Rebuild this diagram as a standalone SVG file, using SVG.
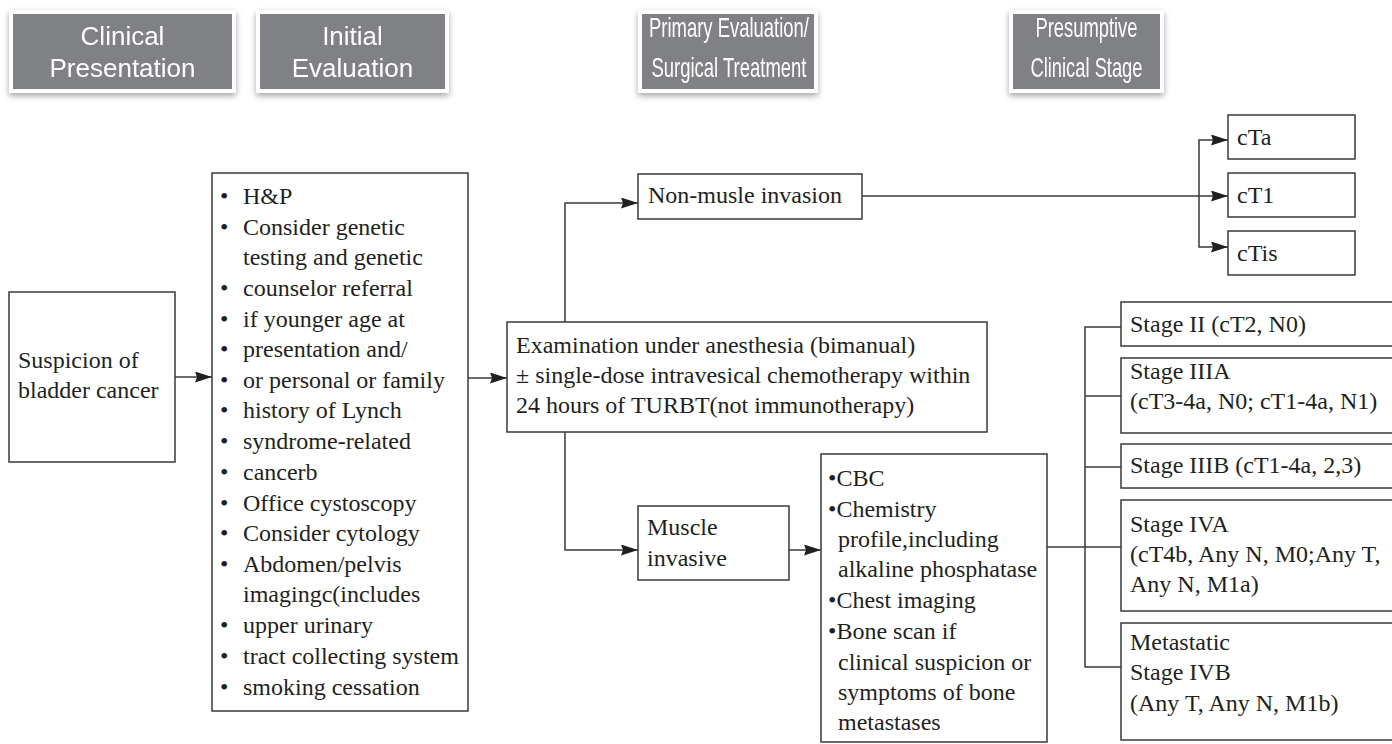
<svg xmlns="http://www.w3.org/2000/svg" width="1392" height="744" viewBox="0 0 1392 744">
  <defs>
    <filter id="shadow" x="-10%" y="-20%" width="120%" height="150%">
      <feGaussianBlur in="SourceAlpha" stdDeviation="3"/>
      <feOffset dx="0" dy="3" result="b"/>
      <feComponentTransfer><feFuncA type="linear" slope="0.35"/></feComponentTransfer>
      <feMerge><feMergeNode/><feMergeNode in="SourceGraphic"/></feMerge>
    </filter>
    <marker id="arrow" markerUnits="userSpaceOnUse" markerWidth="19" markerHeight="12" refX="17" refY="5.5" orient="auto">
      <path d="M0,0 L17,5.5 L0,11 L2,5.5 z" fill="#231f20"/>
    </marker>
  </defs>
  <style>
    .hdr-frame { fill: #ffffff; }
    .hdr-fill { fill: #808185; }
    .hdr-text { font-family: "Liberation Sans", Arial, sans-serif; font-size: 26px; fill: #ffffff; text-anchor: middle; }
    .hdr-narrow { font-size: 28px; }
    .box { fill: #ffffff; stroke: #3a3a3a; stroke-width: 1.5; }
    .txt { font-family: "Liberation Serif", "Times New Roman", serif; font-size: 24px; fill: #231f20; }
    .conn { fill: none; stroke: #3a3a3a; stroke-width: 1.5; }
  </style>

  <rect width="1392" height="744" fill="#ffffff"/>

  <!-- column headers -->
  <g id="hdr-clinical-presentation" filter="url(#shadow)">
    <rect class="hdr-frame" x="9" y="10" width="227" height="83"/>
    <rect class="hdr-fill" x="13" y="14" width="219" height="75"/>
    <text class="hdr-text" x="122.5" y="45">Clinical</text>
    <text class="hdr-text" x="122.5" y="77">Presentation</text>
  </g>
  <g id="hdr-initial-evaluation" filter="url(#shadow)">
    <rect class="hdr-frame" x="256" y="10" width="193" height="83"/>
    <rect class="hdr-fill" x="260" y="14" width="185" height="75"/>
    <text class="hdr-text" x="352.5" y="45">Initial</text>
    <text class="hdr-text" x="352.5" y="77">Evaluation</text>
  </g>
  <g id="hdr-primary-evaluation" filter="url(#shadow)">
    <rect class="hdr-frame" x="638" y="10" width="180" height="83"/>
    <rect class="hdr-fill" x="642" y="14" width="172" height="75"/>
    <text class="hdr-text hdr-narrow" x="729" y="37" textLength="160" lengthAdjust="spacingAndGlyphs">Primary Evaluation/</text>
    <text class="hdr-text hdr-narrow" x="729" y="77" textLength="155" lengthAdjust="spacingAndGlyphs">Surgical Treatment</text>
  </g>
  <g id="hdr-clinical-stage" filter="url(#shadow)">
    <rect class="hdr-frame" x="1009" y="10" width="155" height="83"/>
    <rect class="hdr-fill" x="1013" y="14" width="147" height="75"/>
    <text class="hdr-text hdr-narrow" x="1086.5" y="37" textLength="102" lengthAdjust="spacingAndGlyphs">Presumptive</text>
    <text class="hdr-text hdr-narrow" x="1086.5" y="77" textLength="112" lengthAdjust="spacingAndGlyphs">Clinical Stage</text>
  </g>

  <!-- connectors -->
  <g id="connectors">
    <line class="conn" x1="175" y1="377" x2="212" y2="377" marker-end="url(#arrow)"/>
    <line class="conn" x1="468" y1="378" x2="507" y2="378" marker-end="url(#arrow)"/>
    <path class="conn" d="M565,322 V203 H638" marker-end="url(#arrow)"/>
    <path class="conn" d="M565,432 V550 H638" marker-end="url(#arrow)"/>
    <line class="conn" x1="789" y1="550" x2="821" y2="550" marker-end="url(#arrow)"/>
    <line class="conn" x1="862" y1="196" x2="1228" y2="196" marker-end="url(#arrow)"/>
    <path class="conn" d="M1199,196 V140 H1228" marker-end="url(#arrow)"/>
    <path class="conn" d="M1199,196 V247 H1228" marker-end="url(#arrow)"/>
    <line class="conn" x1="1047" y1="547" x2="1121" y2="547"/>
    <path class="conn" d="M1121,327 H1085 V667 H1121"/>
    <line class="conn" x1="1085" y1="396" x2="1121" y2="396"/>
    <line class="conn" x1="1085" y1="467" x2="1121" y2="467"/>
  </g>

  <!-- nodes -->
  <g id="suspicion">
    <rect class="box" x="9" y="292" width="166" height="170"/>
    <text class="txt" x="18" y="368">Suspicion of</text>
    <text class="txt" x="18" y="398">bladder cancer</text>
  </g>

  <g id="initial-workup">
    <rect class="box" x="212" y="173" width="256" height="538"/>
    <g class="txt">
      <text x="220" y="204">•</text><text x="243" y="204">H&amp;P</text>
      <text x="220" y="235">•</text><text x="243" y="235">Consider genetic</text>
      <text x="243" y="265">testing and genetic</text>
      <text x="220" y="296">•</text><text x="243" y="296">counselor referral</text>
      <text x="220" y="327">•</text><text x="243" y="327">if younger age at</text>
      <text x="220" y="357">•</text><text x="243" y="357">presentation and/</text>
      <text x="220" y="388">•</text><text x="243" y="388">or personal or family</text>
      <text x="220" y="418">•</text><text x="243" y="418">history of Lynch</text>
      <text x="220" y="449">•</text><text x="243" y="449">syndrome-related</text>
      <text x="220" y="480">•</text><text x="243" y="480">cancerb</text>
      <text x="220" y="511">•</text><text x="243" y="511">Office cystoscopy</text>
      <text x="220" y="541">•</text><text x="243" y="541">Consider cytology</text>
      <text x="220" y="572">•</text><text x="243" y="572">Abdomen/pelvis</text>
      <text x="243" y="602">imagingc(includes</text>
      <text x="220" y="633">•</text><text x="243" y="633">upper urinary</text>
      <text x="220" y="664">•</text><text x="243" y="664">tract collecting system</text>
      <text x="220" y="695">•</text><text x="243" y="695">smoking cessation</text>
    </g>
  </g>

  <g id="examination">
    <rect class="box" x="507" y="322" width="480" height="110"/>
    <text class="txt" x="516" y="353">Examination under anesthesia (bimanual)</text>
    <text class="txt" x="516" y="383">± single-dose intravesical chemotherapy within</text>
    <text class="txt" x="516" y="413">24 hours of TURBT(not immunotherapy)</text>
  </g>

  <g id="non-muscle">
    <rect class="box" x="638" y="174" width="224" height="45"/>
    <text class="txt" x="648" y="203">Non-musle invasion</text>
  </g>

  <g id="muscle-invasive">
    <rect class="box" x="638" y="506" width="151" height="74"/>
    <text class="txt" x="647" y="535">Muscle</text>
    <text class="txt" x="647" y="566">invasive</text>
  </g>

  <g id="staging-workup">
    <rect class="box" x="821" y="454" width="226" height="288"/>
    <g class="txt">
      <text x="828" y="486">•CBC</text>
      <text x="828" y="517">•Chemistry</text>
      <text x="838" y="547">profile,including</text>
      <text x="838" y="577">alkaline phosphatase</text>
      <text x="828" y="608">•Chest imaging</text>
      <text x="828" y="639">•Bone scan if</text>
      <text x="838" y="670">clinical suspicion or</text>
      <text x="838" y="700">symptoms of bone</text>
      <text x="838" y="730">metastases</text>
    </g>
  </g>

  <g id="cTa">
    <rect class="box" x="1228" y="115" width="127" height="44"/>
    <text class="txt" x="1237" y="145">cTa</text>
  </g>
  <g id="cT1">
    <rect class="box" x="1228" y="173" width="127" height="44"/>
    <text class="txt" x="1237" y="203">cT1</text>
  </g>
  <g id="cTis">
    <rect class="box" x="1228" y="231" width="127" height="44"/>
    <text class="txt" x="1237" y="261">cTis</text>
  </g>

  <g id="stage-II">
    <rect class="box" x="1121" y="302" width="280" height="44"/>
    <text class="txt" x="1130" y="332">Stage II (cT2, N0)</text>
  </g>
  <g id="stage-IIIA">
    <rect class="box" x="1121" y="358" width="280" height="75"/>
    <text class="txt" x="1130" y="379">Stage IIIA</text>
    <text class="txt" x="1130" y="409">(cT3-4a, N0; cT1-4a, N1)</text>
  </g>
  <g id="stage-IIIB">
    <rect class="box" x="1121" y="444" width="280" height="44"/>
    <text class="txt" x="1130" y="473">Stage IIIB (cT1-4a, 2,3)</text>
  </g>
  <g id="stage-IVA">
    <rect class="box" x="1121" y="500" width="280" height="111"/>
    <text class="txt" x="1130" y="532">Stage IVA</text>
    <text class="txt" x="1130" y="562">(cT4b, Any N, M0;Any T,</text>
    <text class="txt" x="1130" y="592">Any N, M1a)</text>
  </g>
  <g id="stage-IVB">
    <rect class="box" x="1121" y="623" width="280" height="117"/>
    <text class="txt" x="1130" y="650">Metastatic</text>
    <text class="txt" x="1130" y="680">Stage IVB</text>
    <text class="txt" x="1130" y="711">(Any T, Any N, M1b)</text>
  </g>
</svg>
